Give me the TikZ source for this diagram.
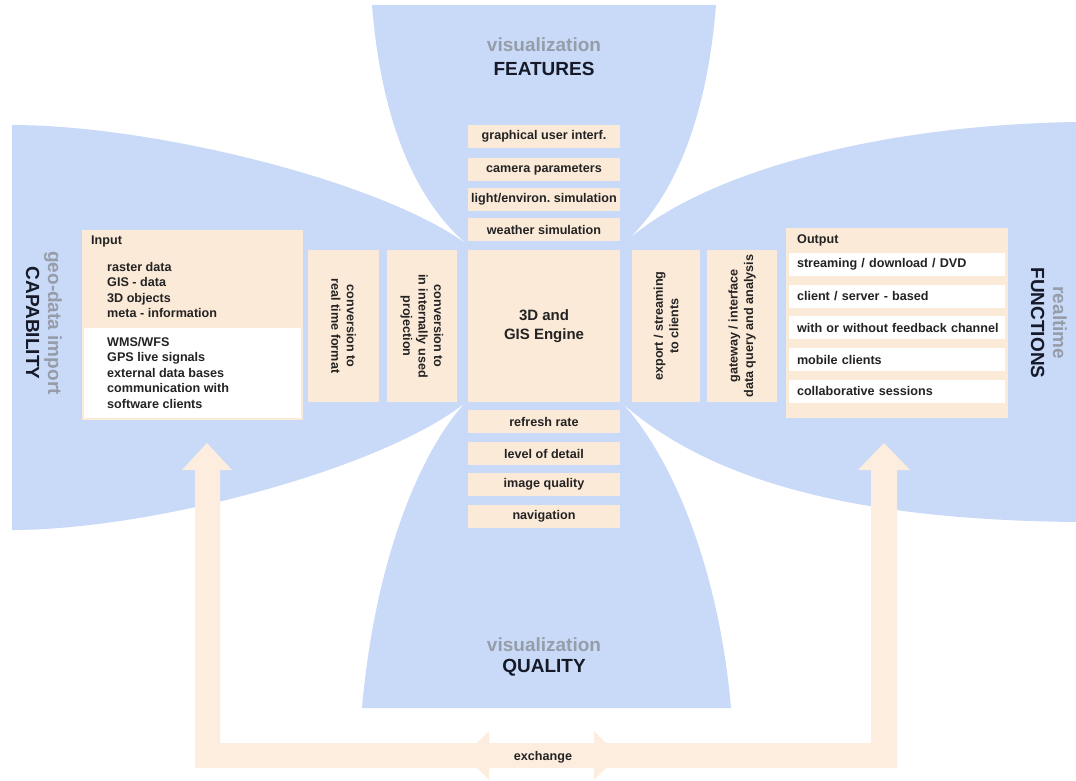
\documentclass[tikz,border=0pt]{standalone}
\usepackage{fontspec}
\setmainfont{Liberation Sans}
\frenchspacing
\definecolor{bluebg}{RGB}{201,218,248}
\definecolor{peach}{RGB}{252,234,216}
\definecolor{arrowpeach}{RGB}{253,237,222}
\definecolor{graylbl}{RGB}{150,156,168}
\definecolor{darklbl}{RGB}{22,26,40}
\definecolor{txt}{RGB}{35,35,35}
\begin{document}
\begin{tikzpicture}[x=1pt,y=-1pt,
  pbox/.style={fill=peach, draw=none, inner sep=0pt, text=txt, align=center,
    font=\fontsize{12.6}{15.5}\selectfont\bfseries},
  wrow/.style={fill=white, draw=none, inner sep=0pt, text=txt, align=left,
    minimum width=216, minimum height=23, text width=214,
    execute at begin node={\hspace*{7pt}},
    font=\fontsize{12.6}{15.5}\selectfont\bfseries},
  ftbox/.style={pbox, minimum width=152, minimum height=23},
  vbox/.style={pbox, minimum width=152, minimum height=70},
  biglbl/.style={align=center, inner sep=0pt, font=\fontsize{19}{22}\selectfont\bfseries},
  plaintxt/.style={inner sep=0pt, text=txt, align=left,
    font=\fontsize{12.6}{15.5}\selectfont\bfseries}]
\useasboundingbox (0,0) rectangle (1076,780);
\fill[white] (0,0) rectangle (1076,780);

% blue background region
\fill[bluebg] (372,5) -- (716,5)
  .. controls (706,130) and (668,205) .. (622,245)
  .. controls (700,172) and (880,125) .. (1076,122)
  -- (1076,522)
  .. controls (880,520) and (720,490) .. (622,403)
  .. controls (668,452) and (718,560) .. (731,708)
  -- (362,708)
  .. controls (375,560) and (420,452) .. (465,403)
  .. controls (380,470) and (150,530) .. (12,530)
  -- (12,125)
  .. controls (150,125) and (380,180) .. (468,245)
  .. controls (420,205) and (382,130) .. (372,5) -- cycle;

% exchange arrows
\coordinate (lt) at (207,443);
\coordinate (rt) at (884,443);
\fill[arrowpeach] (182,470) -- (lt) -- (232,470) -- (220,470) -- (220,743)
  -- (871,743) -- (871,470) -- (858,470) -- (rt) -- (910,470) -- (897,470)
  -- (897,768) -- (195,768) -- (195,470) -- cycle;
\fill[arrowpeach] (465,755.5) -- (489,731) -- (489,780) -- cycle;
\fill[arrowpeach] (618,755.5) -- (594,731) -- (594,780) -- cycle;
\node[plaintxt] (exch) at (543,757) {exchange};

% titles
\node[biglbl, text=graylbl] (vf) at (544,45) {visualization};
\node[biglbl, text=darklbl] (feat) at (544,69) {FEATURES};
\node[biglbl, text=graylbl] (vq) at (544,645) {visualization};
\node[biglbl, text=darklbl] (qual) at (544,668) {QUALITY};
\node[biglbl, rotate=-90] (cap) at (44,323) {\color{graylbl}geo-data import\\\color{darklbl}CAPABILITY};
\node[biglbl, rotate=-90] (func) at (1049,323) {\color{graylbl}realtime\\\color{darklbl}FUNCTIONS};

% engine
\node[pbox, minimum width=152, minimum height=152,
  font=\fontsize{15}{19}\selectfont\bfseries] (engine) at (544,326) {3D and\\GIS Engine};

% feature boxes
\node[ftbox] (gui) at (544,136.5) {graphical user interf.};
\node[ftbox] (cam) at (544,169.5) {camera parameters};
\node[ftbox] (light) at (544,199.5) {light/environ. simulation};
\node[ftbox] (weather) at (544,229.5) {weather simulation};

% quality boxes
\node[ftbox] (refresh) at (544,421.5) {refresh rate};
\node[ftbox] (lod) at (544,453.5) {level of detail};
\node[ftbox] (iq) at (544,484.5) {image quality};
\node[ftbox] (nav) at (544,516.5) {navigation};

% vertical boxes
\node[vbox, minimum height=71, rotate=-90] (conv1) at (343.5,326) {conversion to\\real time format};
\node[vbox, rotate=-90] (conv2) at (422,326) {conversion to\\in internally used\\projection};
\node[vbox, minimum height=68, rotate=90] (export) at (666,326) {export / streaming\\to clients};
\node[vbox, rotate=90] (gateway) at (742,326) {gateway / interface\\data query and analysis};

% input box
\node[pbox, minimum width=221, minimum height=190] (input) at (192.5,325) {};
\node[fill=white, inner sep=0pt, minimum width=217, minimum height=90] (inwhite) at (192.5,373) {};
\node[plaintxt, anchor=west] (inlbl) at (91,241) {Input};
\node[plaintxt, anchor=north west] (inlist1) at (107,262) {raster data\\GIS - data\\3D objects\\meta - information};
\node[plaintxt, anchor=north west] (inlist2) at (107,337) {WMS/WFS\\GPS live signals\\external data bases\\communication with\\software clients};

% output box
\node[pbox, minimum width=222, minimum height=190] (output) at (897,323) {};
\node[plaintxt, anchor=west] (outlbl) at (797,240) {Output};
\node[wrow] (o1) at (897,264.5) {streaming / download / DVD};
\node[wrow] (o2) at (897,296.2) {client / server - based};
\node[wrow] (o3) at (897,327.9) {with or without feedback channel};
\node[wrow] (o4) at (897,359.6) {mobile clients};
\node[wrow] (o5) at (897,391.3) {collaborative sessions};
\end{tikzpicture}
\end{document}
